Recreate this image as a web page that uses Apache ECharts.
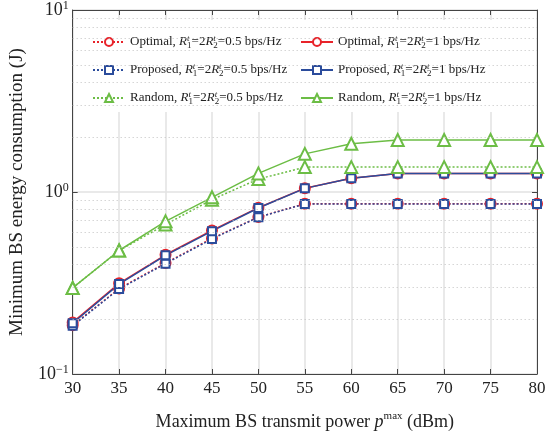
<!DOCTYPE html>
<html>
<head>
<meta charset="utf-8">
<script src="https://cdn.jsdelivr.net/npm/echarts@6/dist/echarts.min.js"></script>
<style>
  html, body { margin: 0; padding: 0; background: #fff; }
  #container { width: 556px; height: 437px; }
</style>
</head>
<body>
<div id="container"></div>
<script>
// transmit power (dBm)
var powers = [30, 35, 40, 45, 50, 55, 60, 65, 70, 75, 80];
// energy consumption (J)
var optimalHalf  = [0.185, 0.295, 0.407, 0.556, 0.728, 0.862, 0.862, 0.862, 0.862, 0.862, 0.862];
var optimalOne   = [0.192, 0.315, 0.452, 0.615, 0.82, 1.05, 1.19, 1.265, 1.265, 1.265, 1.265];
var proposedHalf = [0.184, 0.293, 0.404, 0.552, 0.727, 0.86, 0.86, 0.86, 0.86, 0.86, 0.86];
var proposedOne  = [0.19, 0.312, 0.449, 0.609, 0.817, 1.047, 1.19, 1.263, 1.263, 1.263, 1.263];
var randomHalf   = [0.297, 0.477, 0.663, 0.908, 1.178, 1.37, 1.37, 1.37, 1.37, 1.37, 1.37];
var randomOne    = [0.297, 0.477, 0.69, 0.935, 1.265, 1.62, 1.84, 1.93, 1.93, 1.93, 1.93];
// minor gridlines of the log axis
var minorGrid = [0.2, 0.3, 0.4, 0.5, 0.6, 0.7, 0.8, 0.9, 2, 3, 4, 5, 6, 7, 8, 9];

var FONT = '"Liberation Serif", "Times New Roman", serif';
var RED = '#e8232a', BLUE = '#2b4c9c', GREEN = '#6cbd45';

function pairs(arr) {
    var out = [];
    for (var i = 0; i < powers.length; i++) out.push([powers[i], arr[i]]);
    return out;
}

function legendText(name) {
    var parts = name.split('|');
    return parts[0] + ', {i|R}{t|t}{s|1}=2{i|R}{t|t}{s|2}=' + parts[1] + ' bps/Hz';
}

function makeSeries(name, data, color, symbol, size, dotted) {
    return {
        name: name,
        type: 'line',
        data: pairs(data),
        symbol: symbol,
        symbolSize: size,
        color: color,
        lineStyle: { width: 1.5, type: dotted ? [2, 2] : 'solid', color: color },
        itemStyle: { borderWidth: 1.3, borderColor: color, color: color },
        emphasis: { disabled: true },
        animation: false
    };
}

var legendRich = {
    i: { fontFamily: FONT, fontSize: 13, fontStyle: 'italic', lineHeight: 16 },
    t: { fontFamily: FONT, fontSize: 9, fontStyle: 'italic', width: 0, verticalAlign: 'top', lineHeight: 16 },
    s: { fontFamily: FONT, fontSize: 9, verticalAlign: 'bottom', lineHeight: 16 }
};

function makeLegend(names, left) {
    return {
        orient: 'vertical',
        left: left,
        top: 34,
        padding: 0,
        itemWidth: 32,
        itemHeight: 10,
        itemGap: 12,
        selectedMode: false,
        data: names,
        formatter: legendText,
        textStyle: { fontFamily: FONT, fontSize: 13, color: '#222', lineHeight: 16, rich: legendRich }
    };
}

var axisLineStyle = { color: '#444', width: 1 };

var option = {
    animation: false,
    backgroundColor: '#fff',
    grid: { left: 70, right: 19, top: 9, bottom: 63 },
    legend: [
        makeLegend(['Optimal|0.5', 'Proposed|0.5', 'Random|0.5'], 92),
        makeLegend(['Optimal|1', 'Proposed|1', 'Random|1'], 300)
    ],
    graphic: [{
        type: 'rect', z: 3, silent: true,
        shape: { x: 80, y: 20, width: 430, height: 92 },
        style: { fill: '#fff' }
    }],
    xAxis: [{
        type: 'value', min: 30, max: 80, interval: 5,
        name: 'Maximum BS transmit power {i|p}{sup|max} (dBm)',
        nameLocation: 'middle', nameGap: 37,
        nameTextStyle: {
            fontFamily: FONT, fontSize: 18, color: '#222',
            rich: {
                i: { fontFamily: FONT, fontSize: 18, fontStyle: 'italic' },
                sup: { fontFamily: FONT, fontSize: 11, verticalAlign: 'top', lineHeight: 22 }
            }
        },
        axisLine: { lineStyle: axisLineStyle },
        axisTick: { inside: true, length: 5, lineStyle: axisLineStyle },
        axisLabel: { fontFamily: FONT, fontSize: 17, color: '#222', margin: 6 },
        splitLine: { show: true, lineStyle: { color: '#e2e2e2', width: 1.5 } }
    }, {
        type: 'value', min: 30, max: 80, interval: 5, position: 'top',
        axisLine: { onZero: false, lineStyle: axisLineStyle },
        axisTick: { inside: true, length: 5, lineStyle: axisLineStyle },
        axisLabel: { show: false },
        splitLine: { show: false }
    }],
    yAxis: [{
        type: 'log', logBase: 10, min: 0.1, max: 10,
        name: 'Minimum BS energy consumption (J)',
        nameLocation: 'middle', nameGap: 36,
        nameTextStyle: { fontFamily: FONT, fontSize: 19, color: '#222' },
        axisLine: { show: true, lineStyle: axisLineStyle },
        axisTick: { inside: true, length: 5, lineStyle: axisLineStyle },
        axisLabel: {
            fontFamily: FONT, fontSize: 18, color: '#222', margin: 4,
            formatter: function (v) {
                var e = Math.round(Math.log10(v));
                return '10{s|' + (e < 0 ? '\u2212' + (-e) : e) + '}';
            },
            rich: { s: { fontFamily: FONT, fontSize: 12, verticalAlign: 'top', lineHeight: 20 } }
        },
        splitLine: { show: true, lineStyle: { color: '#e2e2e2', width: 1.5 } }
    }, {
        type: 'log', logBase: 10, min: 0.1, max: 10, position: 'right',
        axisLine: { show: true, onZero: false, lineStyle: axisLineStyle },
        axisTick: { inside: true, length: 5, lineStyle: axisLineStyle },
        axisLabel: { show: false },
        splitLine: { show: false }
    }],
    series: [
        {
            type: 'line', data: [], silent: true,
            markLine: {
                silent: true, symbol: 'none', animation: false,
                label: { show: false },
                lineStyle: { color: '#c0c0c0', width: 1, type: [1, 3] },
                data: minorGrid.map(function (v) { return { yAxis: v }; })
            }
        },
        makeSeries('Optimal|0.5', optimalHalf, RED, 'emptyCircle', 10, true),
        makeSeries('Optimal|1', optimalOne, RED, 'emptyCircle', 10, false),
        makeSeries('Proposed|0.5', proposedHalf, BLUE, 'emptyRect', 8, true),
        makeSeries('Proposed|1', proposedOne, BLUE, 'emptyRect', 8, false),
        makeSeries('Random|0.5', randomHalf, GREEN, 'emptyTriangle', 12, true),
        makeSeries('Random|1', randomOne, GREEN, 'emptyTriangle', 12, false)
    ]
};

echarts.init(document.getElementById('container')).setOption(option);
</script>
</body>
</html>
